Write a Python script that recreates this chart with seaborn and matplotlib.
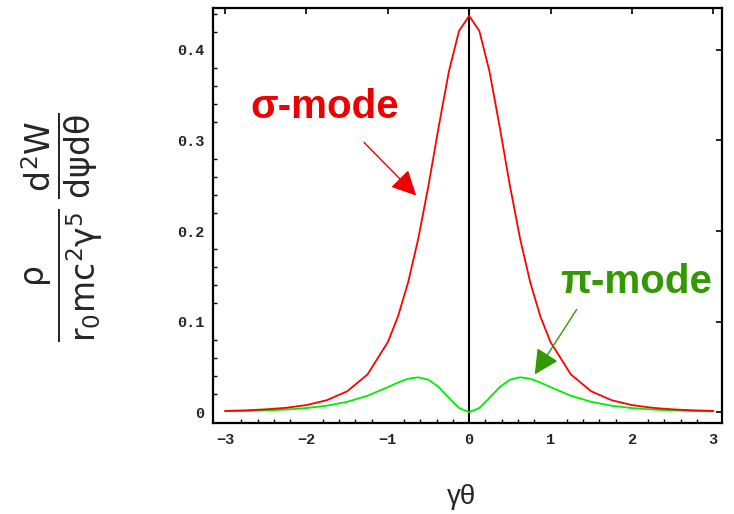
import numpy as np
import pandas as pd
import matplotlib
matplotlib.use('Agg')
import matplotlib.pyplot as plt
import seaborn as sns
from matplotlib.ticker import MultipleLocator

# values
gamma_theta = [-3.0, -2.75, -2.5, -2.25, -2.0, -1.75, -1.5, -1.25, -1.0, -0.875, -0.75, -0.625,
               -0.5, -0.375, -0.25, -0.125, 0.0, 0.125, 0.25, 0.375, 0.5, 0.625, 0.75, 0.875,
               1.0, 1.25, 1.5, 1.75, 2.0, 2.25, 2.5, 2.75, 3.0]
sigma_mode = [0.0014, 0.0020, 0.0031, 0.0048, 0.0078, 0.0132, 0.0230, 0.0416, 0.0773, 0.1056, 0.1434, 0.1918,
              0.2504, 0.3149, 0.3760, 0.4209, 0.4375, 0.4209, 0.3760, 0.3149, 0.2504, 0.1918, 0.1434, 0.1056,
              0.0773, 0.0416, 0.0230, 0.0132, 0.0078, 0.0048, 0.0031, 0.0020, 0.0014]
pi_mode = [0.0009, 0.0013, 0.0019, 0.0029, 0.0045, 0.0071, 0.0114, 0.0181, 0.0276, 0.0327, 0.0369, 0.0385,
           0.0358, 0.0277, 0.0158, 0.0046, 0.0, 0.0046, 0.0158, 0.0277, 0.0358, 0.0385, 0.0369, 0.0327,
           0.0276, 0.0181, 0.0114, 0.0071, 0.0045, 0.0029, 0.0019, 0.0013, 0.0009]

x_ticks = [-3, -2, -1, 0, 1, 2, 3]
x_tick_labels = ['\u22123', '\u22122', '\u22121', '0', '1', '2', '3']
y_ticks = [0, 0.1, 0.2, 0.3, 0.4]
y_tick_labels = ['0', '0.1', '0.2', '0.3', '0.4']

df = pd.DataFrame({'x': gamma_theta, 'sigma': sigma_mode, 'pi': pi_mode})

sns.set_style('white')
plt.rcParams['mathtext.fontset'] = 'custom'
plt.rcParams['mathtext.rm'] = 'Liberation Sans'
plt.rcParams['mathtext.it'] = 'Liberation Sans'
plt.rcParams['mathtext.default'] = 'regular'

fig = plt.figure(figsize=(7.34, 5.14), dpi=100)
ax = fig.add_axes([0.290, 0.177, 0.694, 0.807])

sns.lineplot(data=df, x='x', y='pi', color='#00ee00', linewidth=1.3, ax=ax)
sns.lineplot(data=df, x='x', y='sigma', color='#ff0000', linewidth=1.3, ax=ax)
ax.axvline(0, color='black', linewidth=1.5, zorder=1)

ax.set_xlim(-3.15, 3.11)
ax.set_ylim(-0.012, 0.446)

# Mathematica style frame ticks
ax.set_xticks(x_ticks)
ax.set_xticklabels(x_tick_labels)
ax.set_yticks(y_ticks)
ax.set_yticklabels(y_tick_labels)
ax.xaxis.set_minor_locator(MultipleLocator(0.2))
ax.yaxis.set_minor_locator(MultipleLocator(0.02))
ax.tick_params(which='both', direction='in', color='black')
ax.tick_params(which='major', length=4, width=1.2, top=True, right=True)
ax.tick_params(axis='x', which='major', pad=7)
ax.tick_params(axis='y', which='major', pad=6)
ax.tick_params(which='minor', length=3, width=1.0, bottom=True, left=True)
for lab in ax.get_xticklabels() + ax.get_yticklabels():
    lab.set_family('Liberation Mono')
    lab.set_fontweight('bold')
    lab.set_fontsize(11)
for s in ax.spines.values():
    s.set_color('black')
    s.set_linewidth(1.6)

ax.set_xlabel('')
ax.set_ylabel('')

# annotations
ax.text(-2.69, 0.325, '\u03c3-mode', color='#ee0000', fontsize=29, fontweight='bold',
        family='Liberation Sans', va='baseline', ha='left')
ax.annotate('', xy=(-0.627, 0.237), xytext=(-1.316, 0.300),
            arrowprops=dict(arrowstyle='-|>,head_width=0.45,head_length=0.9', color='#ee0000', lw=1.0,
                            mutation_scale=17))
ax.text(1.12, 0.132, '\u03c0-mode', color='#339900', fontsize=29, fontweight='bold',
        family='Liberation Sans', va='baseline', ha='left')
ax.annotate('', xy=(0.787, 0.039), xytext=(1.34, 0.116),
            arrowprops=dict(arrowstyle='-|>,head_width=0.45,head_length=0.9', color='#339900', lw=1.0,
                            mutation_scale=17))

fig.text(462 / 734, 1 - 497 / 514, '\u03b3\u03b8', fontsize=20, family='Liberation Sans',
         ha='center', va='center')
fig.text(62 / 734, 1 - 227 / 514,
         r'$\frac{\rho}{r_0 mc^2 \gamma^5}\,\frac{d^2W}{d\psi d\theta}$',
         fontsize=34, rotation=90, ha='center', va='center')

plt.savefig('out.png', dpi=100)
